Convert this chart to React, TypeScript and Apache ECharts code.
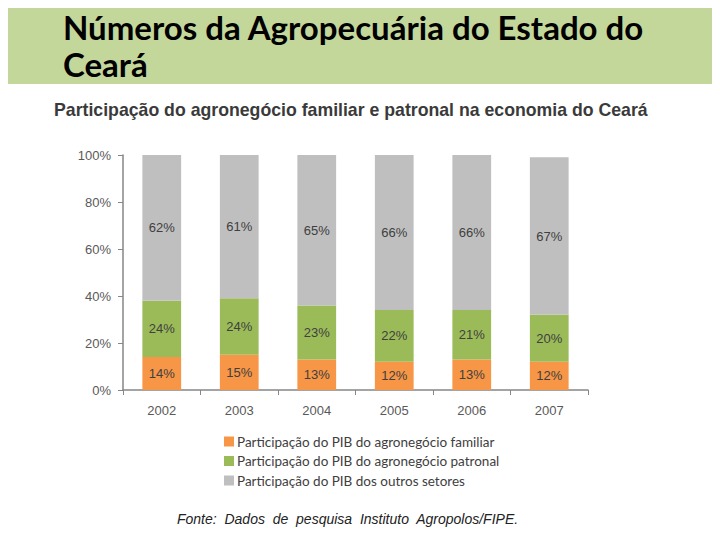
import React, { useEffect, useRef } from "react";
import * as echarts from "echarts";

const years = ["2002", "2003", "2004", "2005", "2006", "2007"];
const familiar = [14, 15, 13, 12, 13, 12];
const patronal = [24, 24, 23, 22, 21, 20];
const outros = [62, 61, 65, 66, 66, 67];
const seriesNames = [
  "Participação do PIB do agronegócio familiar",
  "Participação do PIB do agronegócio patronal",
  "Participação do PIB dos outros setores",
];
const colors = ["#F79646", "#9BBB59", "#BFBFBF"];
const yTicks = [0, 20, 40, 60, 80, 100];

export default function App() {
  const ref = useRef<HTMLDivElement>(null);
  useEffect(() => {
    if (!ref.current) return;
    const chart = echarts.init(ref.current, undefined, { renderer: "svg" });
    const labelCfg = {
      show: true,
      position: "inside",
      formatter: (p: any) => p.value + "%",
      color: "#404040",
      fontSize: 13,
      fontFamily: "Liberation Sans, Arial, sans-serif",
    };
    const data = [familiar, patronal, outros];
    chart.setOption({
      animation: false,
      backgroundColor: "#ffffff",
      grid: { left: 123, right: 132, top: 155, bottom: 150, containLabel: false },
      xAxis: {
        type: "category",
        data: years,
        axisLine: { lineStyle: { color: "#868686", width: 1.5 } },
        axisTick: { show: true, length: 5, lineStyle: { color: "#868686" } },
        axisLabel: {
          color: "#595959",
          fontSize: 13,
          margin: 14,
          fontFamily: "Liberation Sans, Arial, sans-serif",
        },
      },
      yAxis: {
        type: "value",
        min: 0,
        max: 100,
        interval: 20,
        axisLine: { show: true, lineStyle: { color: "#868686", width: 1.5 } },
        axisTick: { show: true, length: 5, lineStyle: { color: "#868686" } },
        splitLine: { show: false },
        axisLabel: {
          color: "#595959",
          fontSize: 13,
          margin: 12,
          fontFamily: "Liberation Sans, Arial, sans-serif",
          formatter: (v: number) => (yTicks.includes(v) ? v + "%" : ""),
        },
      },
      legend: {
        orient: "vertical",
        left: 219,
        top: 429,
        itemWidth: 10,
        itemHeight: 10,
        itemGap: 4.5,
        icon: "rect",
        data: seriesNames,
        textStyle: {
          color: "#404040",
          fontSize: 13.5,
          lineHeight: 15,
          fontFamily: "Lato, sans-serif",
          padding: [0, 0, 0, -2],
        },
      },
      series: data.map((d, i) => ({
        name: seriesNames[i],
        type: "bar",
        stack: "total",
        data: d,
        barWidth: "50%",
        itemStyle: { color: colors[i] },
        label: labelCfg,
      })),
      graphic: [
        {
          type: "rect",
          shape: { x: 0, y: 0, width: 720, height: 84 },
          style: { fill: "#C4D79B" },
          z: -10,
        },
        {
          type: "text",
          x: 63,
          y: 27,
          style: {
            text: "Números da Agropecuária do Estado do",
            font: "bold 33px Lato, sans-serif",
            fill: "#000000",
            verticalAlign: "middle",
          },
        },
        {
          type: "text",
          x: 63,
          y: 64,
          style: {
            text: "Ceará",
            font: "bold 33px Lato, sans-serif",
            fill: "#000000",
            verticalAlign: "middle",
          },
        },
        {
          type: "text",
          x: 54,
          y: 110,
          style: {
            text: "Participação do agronegócio familiar e patronal na economia do Ceará",
            font: "bold 17.7px Liberation Sans, Arial, sans-serif",
            fill: "#3a3a3a",
            verticalAlign: "middle",
          },
        },
        {
          type: "text",
          x: 177,
          y: 519,
          style: {
            text: "Fonte:  Dados  de  pesquisa  Instituto  Agropolos/FIPE.",
            font: "italic 14px Liberation Sans, Arial, sans-serif",
            fill: "#222222",
            verticalAlign: "middle",
          },
        },
      ],
    });
    return () => chart.dispose();
  }, []);
  return <div ref={ref} style={{ width: 720, height: 540, margin: -8 }} />;
}
